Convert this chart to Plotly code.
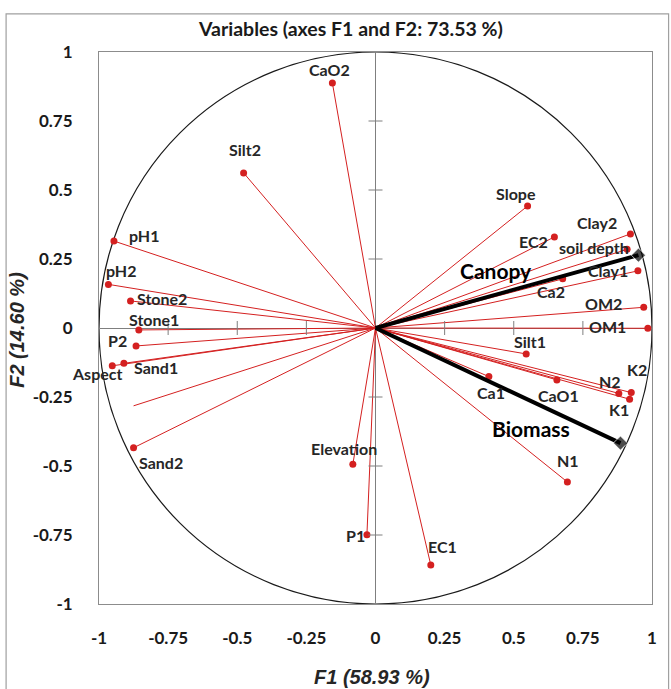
import plotly.graph_objects as go

# ---- data ----
variables = ["CaO2", "Silt2", "Slope", "EC2", "Clay2", "soil depth", "Clay1", "Ca2",
             "OM2", "OM1", "Silt1", "Ca1", "CaO1", "N2", "K2", "K1", "N1", "EC1",
             "P1", "Elevation", "pH1", "pH2", "Stone2", "Stone1", "P2", "Sand1",
             "Aspect", "Sand2", ""]
f1 = [-0.156, -0.477, 0.550, 0.647, 0.922, 0.910, 0.949, 0.677,
      0.970, 0.985, 0.545, 0.410, 0.656, 0.880, 0.925, 0.919, 0.694, 0.200,
      -0.031, -0.082, -0.946, -0.966, -0.886, -0.856, -0.866, -0.910,
      -0.952, -0.875, -0.875]
f2 = [0.888, 0.562, 0.442, 0.330, 0.341, 0.285, 0.207, 0.178,
      0.075, -0.001, -0.094, -0.176, -0.188, -0.237, -0.234, -0.258, -0.558, -0.859,
      -0.749, -0.494, 0.315, 0.158, 0.098, -0.007, -0.065, -0.128,
      -0.137, -0.434, -0.282]
has_marker = [True] * 28 + [False]

supp_names = ["Canopy", "Biomass"]
supp_f1 = [0.951, 0.886]
supp_f2 = [0.264, -0.417]

tick_vals = [-1, -0.75, -0.5, -0.25, 0, 0.25, 0.5, 0.75, 1]
tick_text = ["-1", "-0.75", "-0.5", "-0.25", "0", "0.25", "0.5", "0.75", "1"]
inner_ticks = [-0.75, -0.5, -0.25, 0.25, 0.5, 0.75]

title_text = "Variables (axes F1 and F2: 73.53 %)"
xlabel = "F1 (58.93 %)"
ylabel = "F2 (14.60 %)"

# label offsets in pixels from the point (style): right / down
label_dx = [-3, 1, -12, -21, -33, -33, -30, -12, -40, -40, 4, 2, 2, -9, 6, -11, 1, 12,
            -11, -9, 30, 13, 31, 15, -19, 32, -15, 27, 0]
label_dy = [-13, -23, -13, 5, -11, -2, 0, 13, -4, -2, -12, 16, 16, -12, -23, 10, -22, -19,
            1, -16, -6, -14, -2, -10, -5, 4, 8, 15, 0]

LBL_FONT = "Lato, 'Open Sans', Arial, sans-serif"
AX_FONT = "'Liberation Sans', Arial, sans-serif"
RED = "#d42020"

fig = go.Figure()

# vector lines from origin
lx, ly = [], []
for x, y in zip(f1, f2):
    lx += [0, x, None]
    ly += [0, y, None]
fig.add_trace(go.Scatter(x=lx, y=ly, mode="lines",
                         line=dict(color=RED, width=1), hoverinfo="skip", showlegend=False))

# points
mx = [x for x, m in zip(f1, has_marker) if m]
my = [y for y, m in zip(f2, has_marker) if m]
mt = [t for t, m in zip(variables, has_marker) if m]
fig.add_trace(go.Scatter(x=mx, y=my, mode="markers", text=mt, cliponaxis=False,
                         marker=dict(color=RED, size=7), showlegend=False))

# labels
for name, x, y, dx, dy, m in zip(variables, f1, f2, label_dx, label_dy, has_marker):
    if not m or not name:
        continue
    fig.add_annotation(x=x, y=y, text=name, showarrow=False, xanchor="center", yanchor="middle",
                       xshift=dx, yshift=-dy,
                       font=dict(family=LBL_FONT, size=16, color="#262626", weight="bold"))

# supplementary arrows
for name, x, y in zip(supp_names, supp_f1, supp_f2):
    fig.add_trace(go.Scatter(x=[0, x], y=[0, y], mode="lines+markers",
                             line=dict(color="black", width=4),
                             marker=dict(symbol="diamond", size=[0, 11], color="black"),
                             showlegend=False))

fig.add_annotation(x=supp_f1[0] * 0.46, y=supp_f2[0] * 0.46, text="Canopy", showarrow=False,
                   yshift=24, font=dict(family=LBL_FONT, size=21, color="black", weight="bold"))
fig.add_annotation(x=supp_f1[1] * 0.636, y=supp_f2[1] * 0.636, text="Biomass", showarrow=False,
                   yshift=-27, font=dict(family=LBL_FONT, size=21, color="black", weight="bold"))

# inner tick marks on the zero axes
fig.add_trace(go.Scatter(x=inner_ticks, y=[0] * len(inner_ticks), mode="markers",
                         marker=dict(symbol="line-ns", size=10, line=dict(color="#7f7f7f", width=1)),
                         hoverinfo="skip", showlegend=False))
fig.add_trace(go.Scatter(x=[0] * len(inner_ticks), y=inner_ticks, mode="markers",
                         marker=dict(symbol="line-ew", size=10, line=dict(color="#7f7f7f", width=1)),
                         hoverinfo="skip", showlegend=False))

# unit circle
fig.add_shape(type="circle", xref="x", yref="y", x0=-1, y0=-1, x1=1, y1=1,
              line=dict(color="#1a1a1a", width=1.2), layer="below")

# outer chart border
fig.add_shape(type="rect", xref="paper", yref="paper", x0=-0.168, x1=1.03, y0=-0.2, y1=1.069,
              line=dict(color="#a0a0a0", width=1.2))

tickfont = dict(family=LBL_FONT, size=17, color="#1a1a1a", weight="bold")
fig.update_xaxes(range=[-1, 1], tickvals=tick_vals, ticktext=tick_text, showgrid=False,
                 zeroline=True, zerolinecolor="#7f7f7f", zerolinewidth=1,
                 showline=True, mirror=True, linecolor="#8c8c8c", linewidth=1,
                 ticks="", ticklabelstandoff=19, tickfont=tickfont)
fig.update_yaxes(range=[-1, 1], tickvals=tick_vals, ticktext=tick_text, showgrid=False,
                 zeroline=True, zerolinecolor="#7f7f7f", zerolinewidth=1,
                 showline=True, mirror=True, linecolor="#8c8c8c", linewidth=1,
                 ticks="", ticklabelstandoff=22, tickfont=tickfont)

fig.add_annotation(xref="paper", yref="paper", x=0.454, y=1.043, xanchor="center", yanchor="middle",
                   text=title_text, showarrow=False,
                   font=dict(family=LBL_FONT, size=19.5, color="#1a1a1a", weight="bold"))
fig.add_annotation(xref="paper", yref="paper", x=0.493, y=-0.133, xanchor="center", yanchor="middle",
                   text=xlabel, showarrow=False,
                   font=dict(family=AX_FONT, size=20, color="#262626", weight="bold", style="italic"))
fig.add_annotation(xref="paper", yref="paper", x=-0.148, y=0.497, xanchor="center", yanchor="middle",
                   text=ylabel, showarrow=False, textangle=-90,
                   font=dict(family=AX_FONT, size=20, color="#262626", weight="bold", style="italic"))

fig.update_layout(width=671, height=689, margin=dict(l=99, r=19, t=52, b=85),
                  paper_bgcolor="white", plot_bgcolor="white", showlegend=False)

fig.write_html("out.html", config={"displayModeBar": False},
               post_script="document.body.style.margin='0';")
